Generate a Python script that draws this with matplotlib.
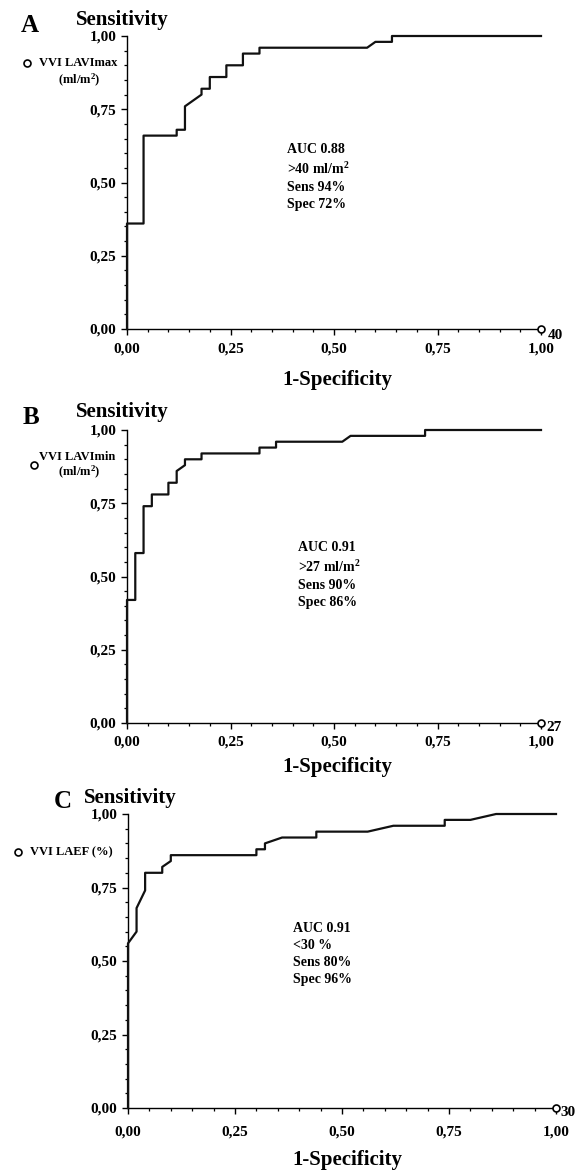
import matplotlib
matplotlib.use("Agg")
import matplotlib.pyplot as plt
from matplotlib.lines import Line2D
from matplotlib.ticker import MultipleLocator, FuncFormatter

plt.rcParams['font.family'] = ['Liberation Serif', 'DejaVu Serif']
plt.rcParams['font.weight'] = 'bold'
plt.rcParams['mathtext.fontset'] = 'custom'
plt.rcParams['mathtext.rm'] = 'Liberation Serif:bold'
plt.rcParams['mathtext.it'] = 'Liberation Serif:bold'
plt.rcParams['mathtext.bf'] = 'Liberation Serif:bold'

# ROC curves (1-specificity, sensitivity)
fpr_a = [0, 0, 0.04, 0.04, 0.12, 0.12, 0.14, 0.14, 0.18, 0.18, 0.20, 0.20,
         0.24, 0.24, 0.28, 0.28, 0.32, 0.32, 0.58, 0.60, 0.64, 0.64, 1.00]
tpr_a = [0, 0.36, 0.36, 0.66, 0.66, 0.68, 0.68, 0.76, 0.80, 0.82, 0.82, 0.86,
         0.86, 0.90, 0.90, 0.94, 0.94, 0.96, 0.96, 0.98, 0.98, 1.00, 1.00]

fpr_b = [0, 0, 0.02, 0.02, 0.04, 0.04, 0.06, 0.06, 0.10, 0.10, 0.12, 0.12,
         0.14, 0.14, 0.18, 0.18, 0.32, 0.32, 0.36, 0.36, 0.52, 0.54, 0.72,
         0.72, 1.00]
tpr_b = [0, 0.42, 0.42, 0.58, 0.58, 0.74, 0.74, 0.78, 0.78, 0.82, 0.82, 0.86,
         0.88, 0.90, 0.90, 0.92, 0.92, 0.94, 0.94, 0.96, 0.96, 0.98, 0.98,
         1.00, 1.00]

fpr_c = [0, 0, 0.02, 0.02, 0.04, 0.04, 0.08, 0.08, 0.10, 0.10, 0.30, 0.30,
         0.32, 0.32, 0.36, 0.44, 0.44, 0.56, 0.62, 0.74, 0.74, 0.80, 0.86,
         1.00]
tpr_c = [0, 0.56, 0.60, 0.68, 0.74, 0.80, 0.80, 0.82, 0.84, 0.86, 0.86, 0.88,
         0.88, 0.90, 0.92, 0.92, 0.94, 0.94, 0.96, 0.96, 0.98, 0.98, 1.00,
         1.00]

letters = ['A', 'B', 'C']
var_labels = ['VVI LAVImax', 'VVI LAVImin', 'VVI LAEF (%)']
stats = ['AUC 0.88\n>40 ml/m$^{2}$\nSens 94%\nSpec 72%',
         'AUC 0.91\n>27 ml/m$^{2}$\nSens 90%\nSpec 86%',
         'AUC 0.91\n<30 %\nSens 80%\nSpec 96%']
n_cases = ['40', '27', '30']

W, H = 578, 1172
fig = plt.figure(figsize=(W / 100, H / 100), dpi=100)


def px(x, y):
    return x / W, 1 - y / H


def comma(v, pos):
    return ('%.2f' % v).replace('.', ',')


def panel(box, fpr, tpr, stat_xy, stat, n, xpad, noff):
    l, t, r, b = box
    ax = fig.add_axes([l / W, 1 - b / H, (r - l) / W, (b - t) / H])
    ax.plot(fpr, tpr, color='#111111', lw=1.6, clip_on=False, zorder=3)
    ax.plot([1.0], [0.0], 'o', ms=5, mfc='white', mec='black', mew=1.2,
            clip_on=False, zorder=4)
    ax.annotate(n, (1.0, 0.0), xytext=noff, textcoords='offset points',
                fontsize=11, fontweight='bold', va='center', ha='left',
                annotation_clip=False)
    ax.set_xlim(0, 1)
    ax.set_ylim(0, 1)
    for s in ['top', 'right']:
        ax.spines[s].set_visible(False)
    for s in ['left', 'bottom']:
        ax.spines[s].set_linewidth(1.0)
    ax.xaxis.set_major_locator(MultipleLocator(0.25))
    ax.xaxis.set_minor_locator(MultipleLocator(0.05))
    ax.yaxis.set_major_locator(MultipleLocator(0.25))
    ax.yaxis.set_minor_locator(MultipleLocator(0.05))
    ax.xaxis.set_major_formatter(FuncFormatter(comma))
    ax.yaxis.set_major_formatter(FuncFormatter(comma))
    ax.tick_params(which='major', length=4.3, width=1.0, labelsize=11)
    ax.tick_params(which='minor', length=2.4, width=0.9)
    ax.tick_params(axis='y', which='major', pad=3.5)
    ax.tick_params(axis='x', which='major', pad=xpad)
    for lab in ax.get_xticklabels() + ax.get_yticklabels():
        lab.set_fontweight('bold')
    ax.text(stat_xy[0], stat_xy[1], stat, fontsize=10, fontweight='bold',
            va='top', ha='left', linespacing=1.4)
    return ax


panel((127, 36, 541, 329), fpr_a, tpr_a, (0.386, 0.635), stats[0], n_cases[0], 5.5, (4.5, -5))
panel((127, 430, 541, 723), fpr_b, tpr_b, (0.414, 0.622), stats[1], n_cases[1], 5, (4, -3))
panel((128, 814, 556, 1108), fpr_c, tpr_c, (0.386, 0.632), stats[2], n_cases[2], 8, (3, -3))

# panel letters, y titles and x titles
for (x, y), s in zip([(30, 25), (31, 417), (63, 802)], letters):
    fig.text(*px(x, y), s, fontsize=18, fontweight='bold', ha='center', va='center')
for (x, y) in [(122, 20), (122, 412), (130, 798)]:
    fig.text(*px(x, y), 'Sensitivity', fontsize=15, fontweight='bold',
             ha='center', va='center')
for (x, y) in [(337, 380), (337, 767), (347, 1160)]:
    fig.text(*px(x, y), '1-Specificity', fontsize=15, fontweight='bold',
             ha='center', va='center')

# legend-like labels at left
for (x, y) in [(27, 63), (34, 465), (18, 852)]:
    fig.add_artist(Line2D([x / W], [1 - y / H], marker='o', ms=5, mfc='white',
                          mec='black', mew=1.2, transform=fig.transFigure))

fig.text(*px(39, 63), var_labels[0], fontsize=9, fontweight='bold',
         ha='left', va='center')
fig.text(*px(79, 80), '(ml/m$^{2}$)', fontsize=9, fontweight='bold',
         ha='center', va='center')

fig.text(*px(39, 457), var_labels[1], fontsize=9, fontweight='bold',
         ha='left', va='center')
fig.text(*px(79, 472), '(ml/m$^{2}$)', fontsize=9, fontweight='bold',
         ha='center', va='center')

fig.text(*px(30, 852), var_labels[2], fontsize=9, fontweight='bold',
         ha='left', va='center')

fig.savefig('out.png', dpi=100)
